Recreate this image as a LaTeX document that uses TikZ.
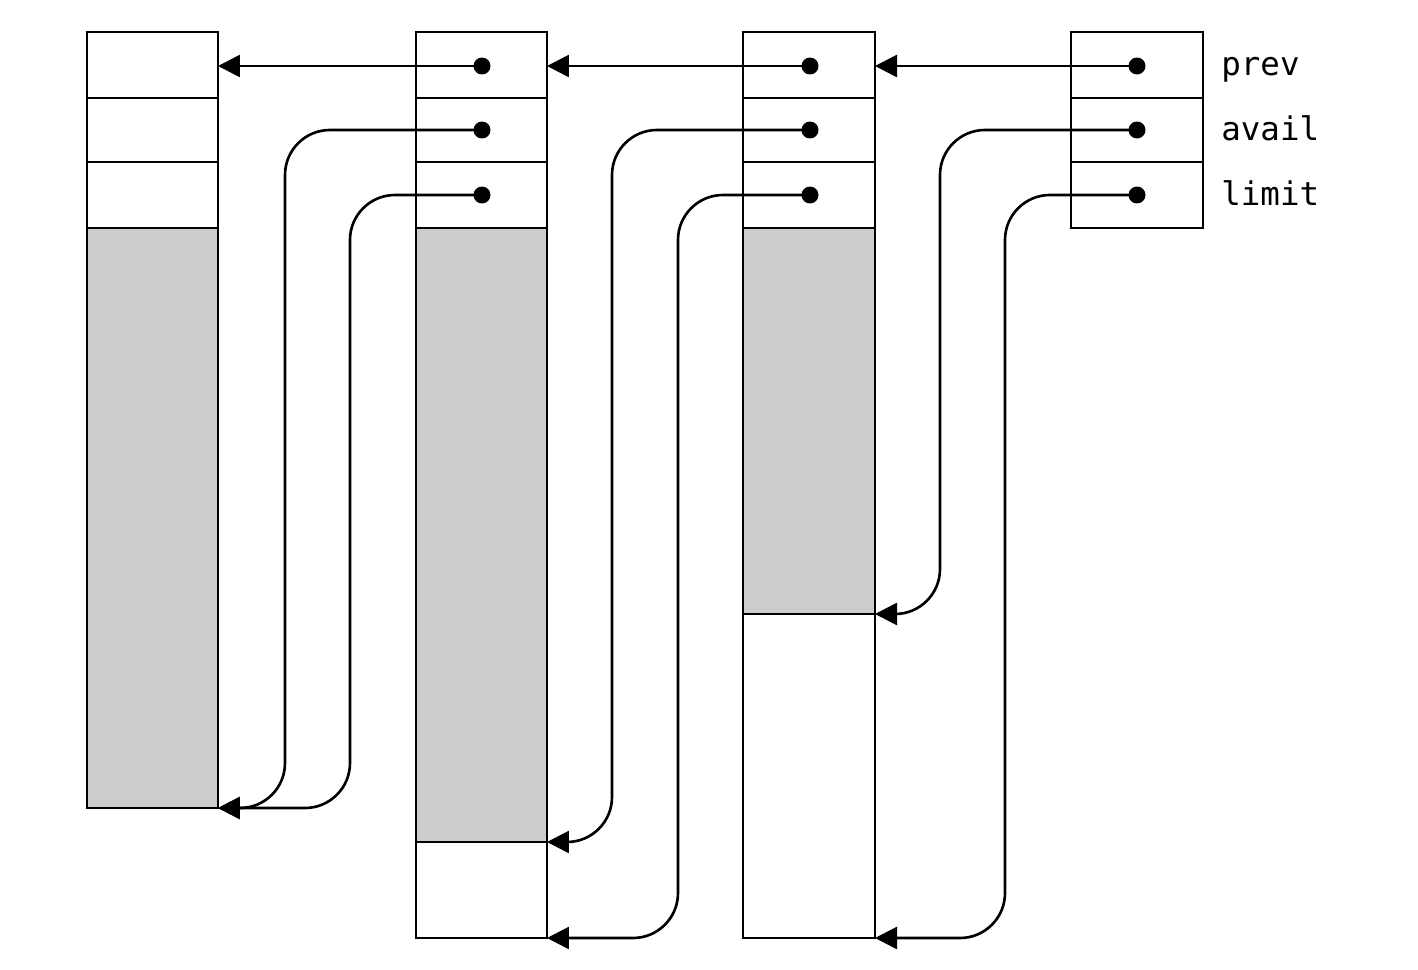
\documentclass[tikz,border=0pt]{standalone}
\usepackage{fontspec}
\setmonofont{DejaVu Sans Mono}
\usetikzlibrary{arrows.meta}
\definecolor{UsedGray}{gray}{0.8}
\tikzset{
  frame/.style={line width=1.5pt},
  sep/.style={line width=0.9pt},
  ptr/.style={circle,fill,inner sep=0pt,minimum size=0.34cm},
  link/.style={line width=1.5pt,rounded corners=0.9cm,
    -{Triangle[length=0.44cm,width=0.44cm]}},
  field/.style={anchor=base west,inner sep=0pt,
    font=\ttfamily\fontsize{18.5}{22}\selectfont}
}

\begin{document}
\begin{tikzpicture}[x=0.02cm,y=-0.02cm]
    \useasboundingbox (0,0) rectangle (1418,970);

    % Coordinates
    \path (218, 66) coordinate (B1prev)
      (218,808) coordinate (B1avail)
      (547, 66) coordinate (B2prev)
      (547,842) coordinate (B2avail)
      (547,938) coordinate (B2limit)
      (875, 66) coordinate (B3prev)
      (875,614) coordinate (B3avail)
      (875,938) coordinate (B3limit)
      (285,808) coordinate (K2a)
      (350,808) coordinate (K2l)
      (612,842) coordinate (K3a)
      (678,938) coordinate (K3l)
      (940,614) coordinate (K4a)
      (1005,938) coordinate (K4l)
      ;

    % Used parts
    \fill[UsedGray] (87,228) rectangle (218,808);
    \fill[UsedGray] (416,228) rectangle (547,842);
    \fill[UsedGray] (743,228) rectangle (875,614);

    % Header rows
    \begin{scope}[sep]
      \draw (87,98) -- (218,98) (87,162) -- (218,162);
      \draw (416,98) -- (547,98) (416,162) -- (547,162);
      \draw (743,98) -- (875,98) (743,162) -- (875,162);
      \draw (1071,98) -- (1203,98) (1071,162) -- (1203,162);
      \draw (416,842) -- (547,842);
      \draw (743,614) -- (875,614);
    \end{scope}

    % Blocks
    \begin{scope}[frame]
      \draw (87,32) rectangle (218,808);
      \draw (87,228) -- (218,228);
      \draw (416,32) rectangle (547,938);
      \draw (416,228) -- (547,228);
      \draw (743,32) rectangle (875,938);
      \draw (743,228) -- (875,228);
      \draw (1071,32) rectangle (1203,228);
    \end{scope}

    % Pointers
    \node[ptr] (p2) at (482, 66) {};
    \node[ptr] (a2) at (482,130) {};
    \node[ptr] (l2) at (482,195) {};
    \node[ptr] (p3) at (810, 66) {};
    \node[ptr] (a3) at (810,130) {};
    \node[ptr] (l3) at (810,195) {};
    \node[ptr] (p4) at (1137, 66) {};
    \node[ptr] (a4) at (1137,130) {};
    \node[ptr] (l4) at (1137,195) {};

    % Links
    \draw[link] (p2.center) -- (B1prev);
    \draw[link] (a2.center) -| (K2a) -- (B1avail);
    \draw[link] (l2.center) -| (K2l) -- (B1avail);
    \draw[link] (p3.center) -- (B2prev);
    \draw[link] (a3.center) -| (K3a) -- (B2avail);
    \draw[link] (l3.center) -| (K3l) -- (B2limit);
    \draw[link] (p4.center) -- (B3prev);
    \draw[link] (a4.center) -| (K4a) -- (B3avail);
    \draw[link] (l4.center) -| (K4l) -- (B3limit);

    % Field names
    \node[field] (prev) at (1221, 75) {prev};
    \node[field] (avail) at (1221,140) {avail};
    \node[field] (limit) at (1221,205) {limit};

\end{tikzpicture}
\end{document}
